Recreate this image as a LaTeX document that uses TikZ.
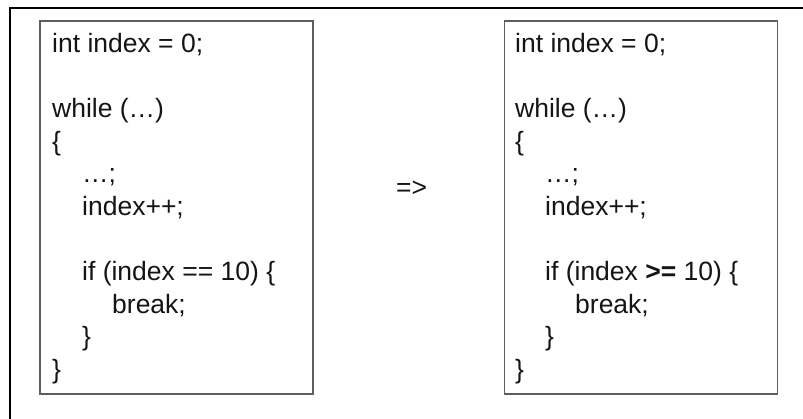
\documentclass[tikz,border=0pt]{standalone}
\usepackage{fontspec}
\setmainfont{Liberation Sans}
\definecolor{boxgray}{HTML}{5E5E5E}
\definecolor{textblack}{HTML}{151515}
\tikzset{
  codebox/.style={draw=boxgray, line width=1.5pt, minimum width=273pt, minimum height=373pt, inner sep=0pt},
  codeline/.style={anchor=base west, inner sep=0pt, text=textblack, font=\fontsize{26.5}{32}\selectfont},
  frameline/.style={line width=2.8pt, draw=black}
}
\begin{document}
\begin{tikzpicture}[x=1pt, y=-1pt]
\useasboundingbox (0,0) rectangle (803,419);
\fill[white] (0,0) rectangle (803,419);
% outer frame (only top and left edges visible)
\coordinate (fbl) at (10,425);
\coordinate (ftl) at (10,8);
\coordinate (ftr) at (810,8);
\draw[frameline] (fbl) -- (ftl) -- (ftr);
% boxes
\node[codebox] (boxL) at (176.5,207.5) {};
\node[codebox] (boxR) at (641,207.5) {};
% left code
\node[codeline] (l1) at (52,52.5) {int index = 0;};
\node[codeline] (l3) at (52,117.7) {while (…)};
\node[codeline] (l4) at (52,150.3) {\{};
\node[codeline] (l5) at (82,182.9) {…;};
\node[codeline] (l6) at (82,215.5) {index++;};
\node[codeline] (l8) at (82,280.7) {if (index == 10) \{};
\node[codeline] (l9) at (112,313.3) {break;};
\node[codeline] (l10) at (82,345.9) {\}};
\node[codeline] (l11) at (52,378.5) {\}};
% arrow text
\node[codeline] (arrow) at (396,197) {=>};
% right code
\node[codeline] (r1) at (515,52.5) {int index = 0;};
\node[codeline] (r3) at (515,117.7) {while (…)};
\node[codeline] (r4) at (515,150.3) {\{};
\node[codeline] (r5) at (545,182.9) {…;};
\node[codeline] (r6) at (545,215.5) {index++;};
\node[codeline] (r8) at (545,280.7) {if (index \textbf{>=} 10) \{};
\node[codeline] (r9) at (575,313.3) {break;};
\node[codeline] (r10) at (545,345.9) {\}};
\node[codeline] (r11) at (515,378.5) {\}};
\end{tikzpicture}
\end{document}
